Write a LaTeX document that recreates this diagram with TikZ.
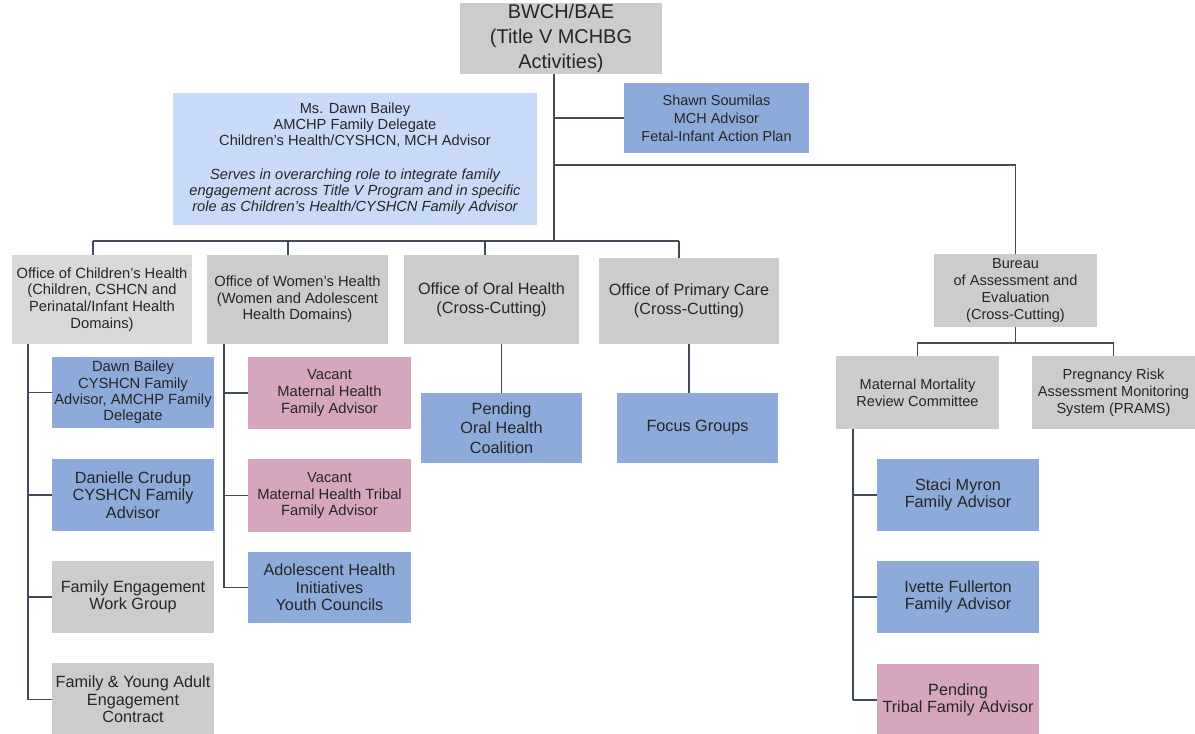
\documentclass[tikz,border=0pt]{standalone}
\usepackage{fontspec}
\setmainfont{Liberation Sans}
\definecolor{gr}{HTML}{CCCCCC}
\definecolor{grl}{HTML}{D9D9D9}
\definecolor{lb}{HTML}{C9DAF8}
\definecolor{mb}{HTML}{8EAADB}
\definecolor{pk}{HTML}{D5A6BD}
\definecolor{txt}{HTML}{262626}
\definecolor{ln}{HTML}{3F4A5A}
\newcommand\fsz[2]{\fontsize{#1}{#2}\selectfont}
\newcommand\bx[7]{%
  \node[#6, minimum width={(#4-#2)*1bp}, minimum height={(#5-#3)*1bp}] (#1) at ({(#2+#4)/2},{(#3+#5)/2}) {#7};}
\tikzset{
  box/.style={draw=none, inner sep=0pt, align=center, text=txt},
  gbox/.style={box, fill=gr},
  glbox/.style={box, fill=grl},
  lbbox/.style={box, fill=lb},
  mbbox/.style={box, fill=mb},
  pkbox/.style={box, fill=pk},
  conn/.style={draw=ln, line width=1.6bp},
  trunk/.style={draw=ln, line width=2.2bp}
}
\begin{document}
\begin{tikzpicture}[x=1bp, y=-1bp]
\fill[white] (0,0) rectangle (1195,734);
\useasboundingbox (0,0) rectangle (1195,734);

% top
\bx{bw}{460}{3}{662}{74}{gbox, font=\fsz{20}{25}}{BWCH/BAE\\(Title V MCHBG\\Activities)}
\bx{dawn}{173}{93}{537}{225}{lbbox, font=\fsz{14.7}{16}}{Ms. Dawn Bailey\\AMCHP Family Delegate\\Children's Health/CYSHCN, MCH Advisor\\[18bp]
\itshape Serves in overarching role to integrate family\\\itshape engagement across Title V Program and in specific\\\itshape role as Children's Health/CYSHCN Family Advisor}
\bx{sh}{624}{83}{809}{153}{mbbox, font=\fsz{14.5}{18}}{Shawn Soumilas\\MCH Advisor\\Fetal-Infant Action Plan}

% offices
\bx{ch}{12}{255}{192}{344}{glbox, font=\fsz{14.8}{16.7}}{Office of Children's Health\\(Children, CSHCN and\\Perinatal/Infant Health\\Domains)}
\bx{wh}{207}{255}{388}{344}{gbox, font=\fsz{14.8}{16.7}}{Office of Women's Health\\(Women and Adolescent\\Health Domains)}
\bx{oh}{404}{255}{579}{344}{gbox, font=\fsz{16.3}{19}}{Office of Oral Health\\(Cross-Cutting)}
\bx{pc}{599}{258}{779}{344}{gbox, font=\fsz{16.3}{19}}{Office of Primary Care\\(Cross-Cutting)}
\bx{bu}{934}{254}{1097}{327}{gbox, font=\fsz{14.6}{17}}{Bureau\\of Assessment and\\Evaluation\\(Cross-Cutting)}
\bx{mm}{836}{356}{999}{429}{gbox, font=\fsz{14.6}{17}}{Maternal Mortality\\Review Committee}
\bx{pr}{1032}{356}{1195}{429}{gbox, font=\fsz{14.6}{17}}{Pregnancy Risk\\Assessment Monitoring\\System (PRAMS)}

% children's
\bx{c1}{52}{357}{214}{428}{mbbox, font=\fsz{14.8}{16.5}}{Dawn Bailey\\CYSHCN Family\\Advisor, AMCHP Family\\Delegate}
\bx{c2}{52}{459}{214}{531}{mbbox, font=\fsz{16.3}{17.5}}{Danielle Crudup\\CYSHCN Family\\Advisor}
\bx{c3}{52}{561}{214}{633}{gbox, font=\fsz{16.3}{17.5}}{Family Engagement\\Work Group}
\bx{c4}{52}{663}{214}{736}{gbox, font=\fsz{16.3}{17.5}}{Family \& Young Adult\\Engagement\\Contract}

% women's
\bx{w1}{248}{357}{411}{429}{pkbox, font=\fsz{14.8}{16.7}}{Vacant\\Maternal Health\\Family Advisor}
\bx{w2}{248}{459}{411}{532}{pkbox, font=\fsz{14.8}{16.7}}{Vacant\\Maternal Health Tribal\\Family Advisor}
\bx{w3}{248}{552}{411}{623}{mbbox, font=\fsz{16.3}{17.5}}{Adolescent Health\\Initiatives\\Youth Councils}

% oral / primary
\bx{o1}{421}{393}{582}{463}{mbbox, font=\fsz{16.3}{19.5}}{Pending\\Oral Health\\Coalition}
\bx{p1}{617}{393}{778}{463}{mbbox, font=\fsz{16.3}{19}}{Focus Groups}

% bureau
\bx{b1}{877}{459}{1039}{531}{mbbox, font=\fsz{16.3}{17.5}}{Staci Myron\\Family Advisor}
\bx{b2}{877}{561}{1039}{633}{mbbox, font=\fsz{16.3}{17.5}}{Ivette Fullerton\\Family Advisor}
\bx{b3}{877}{664}{1039}{736}{pkbox, font=\fsz{16.3}{17.5}}{Pending\\Tribal Family Advisor}

% connector coordinates
\coordinate (tr) at (554,241);
\coordinate (j2) at (554,165);
\coordinate (busL) at (93,241);
\coordinate (busR) at (679,241);
\coordinate (dw) at (288,241);
\coordinate (do) at (485,241);
\coordinate (cv) at (28,344);
\coordinate (wv) at (224,344);
\coordinate (bb) at (1015.5,343);
\coordinate (mv) at (853,429);

% trunk and top connectors
\draw[trunk] (bw.south -| tr) -- (tr);
\draw[conn] (sh.west) -- (sh.west -| tr);
\draw[conn] (j2) -| (bu.north);

% office bus
\draw[conn] (busL) -- (busR);
\draw[conn] (busL) -- (busL |- ch.north);
\draw[conn] (dw) -- (dw |- wh.north);
\draw[conn] (do) -- (do |- oh.north);
\draw[conn] (busR) -- (busR |- pc.north);

% children's
\draw[conn] (cv) -- (cv |- c4.west);
\foreach \n in {c1,c2,c3,c4} \draw[conn] (cv |- \n.west) -- (\n.west);

% women's
\draw[conn] (wv) -- (wv |- w3.west);
\foreach \n in {w1,w2,w3} \draw[conn] (wv |- \n.west) -- (\n.west);

% oral / primary
\draw[conn] (o1.north) -- (o1.north |- oh.south);
\draw[conn] (pc.south) -- (pc.south |- p1.north);

% bureau
\draw[conn] (bu.south) -- (bb);
\draw[conn] (mm.north) |- (bb) -| (pr.north);
\draw[conn] (mv) -- (mv |- b3.west);
\foreach \n in {b1,b2,b3} \draw[conn] (mv |- \n.west) -- (\n.west);
\end{tikzpicture}
\end{document}
